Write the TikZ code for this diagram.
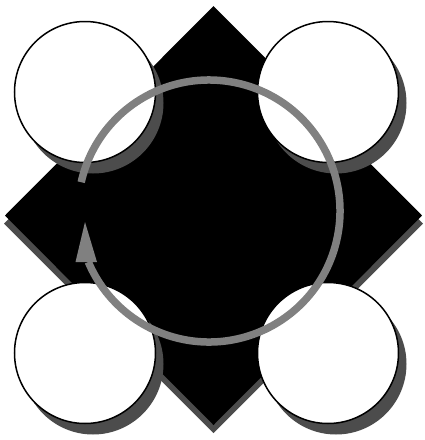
\documentclass[tikz,border=0pt]{standalone}
\begin{document}
\begin{tikzpicture}[x=1pt,y=-1pt,
  shadowcol/.style={fill=black!70},
  disc/.style={fill=white,draw=black,line width=1.5pt},
  ring/.style={draw=black!50,line width=7.5pt}]
\useasboundingbox (0,0) rectangle (424,440);
% diamond shadow and diamond
\fill[shadowcol] (213.5,14) -- (423,223.5) -- (213.5,433) -- (4,223.5) -- cycle;
\fill[black] (213.5,6) -- (422,215.5) -- (213.5,425) -- (5,215.5) -- cycle;
% circle shadows
\foreach \cx/\cy in {85/92,328/92,85/353,328/353}
  \fill[shadowcol] (\cx+8,\cy+11) circle (70.5);
% circles
\node[disc,circle,minimum size=141pt,inner sep=0pt] (tl) at (85,92) {};
\node[disc,circle,minimum size=141pt,inner sep=0pt] (tr) at (328,92) {};
\node[disc,circle,minimum size=141pt,inner sep=0pt] (bl) at (85,353) {};
\node[disc,circle,minimum size=141pt,inner sep=0pt] (br) at (328,353) {};
% ring arrow
\coordinate (c) at (209,211);
\draw[ring] ([shift={(192.7:131)}]c) arc[start angle=192.7,end angle=517.1,radius=131];
\fill[black!50] (75.5,262) -- (97,262) -- (85,222) -- cycle;
\end{tikzpicture}
\end{document}
